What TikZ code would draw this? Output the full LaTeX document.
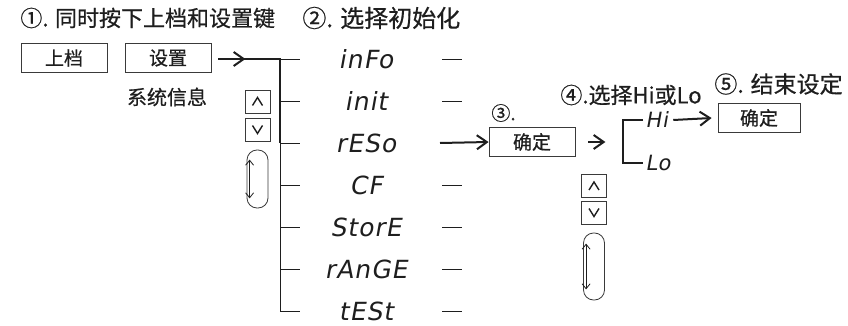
\documentclass[tikz,border=0pt]{standalone}
\usepackage{fontspec}
\setmainfont{Noto Sans CJK SC}[FakeBold=0.6]
\newfontfamily\segfont{DejaVu Sans}[FakeSlant=0.18, LetterSpace=4]
\usetikzlibrary{positioning, arrows.meta}
\definecolor{InkGray}{HTML}{1E1E1E}
\definecolor{FrameGray}{HTML}{3A3A3A}

\begin{document}
\begin{tikzpicture}[x=1pt, y=-1pt, line width=0.8pt, color=InkGray,
    every node/.style={inner sep=0pt, text=InkGray},
    key/.style={draw=FrameGray, minimum width=86pt, minimum height=29pt, font=\fontsize{19}{19}\selectfont},
    caption/.style={anchor=west, font=\fontsize{22}{22}\selectfont},
    segment/.style={font=\segfont\fontsize{25}{25}\selectfont},
    btn/.style={draw=FrameGray, minimum width=25pt, minimum height=23pt},
    loopbox/.style={draw=FrameGray, rounded corners=10pt, minimum width=21pt, minimum height=58pt},
    arrow/.style={-{Straight Barb[length=10pt, width=14pt, line width=2pt]}, line width=2pt},
    thinarrow/.style={{Straight Barb[length=5pt, width=8pt]}-{Straight Barb[length=5pt, width=8pt]}, line width=0.8pt}]
  \useasboundingbox (0,0) rectangle (848,326);

  % step 1
  \node[caption] (stepone) at (20,18) {①. 同时按下上档和设置键};
  \node[key] (shift) at (64,58) {上档};
  \node[key] (setup) at (168,58) {设置};
  \node[font=\fontsize{20}{20}\selectfont] (sysinfo) at (167,97) {系统信息};

  % step 2: menu
  \node[caption, font=\fontsize{24}{24}\selectfont] (steptwo) at (302,18) {②. 选择初始化};
  \foreach \name/\yy in {inFo/59, init/101, rESo/143, CF/185, StorE/227, rAnGE/269, tESt/311} {
    \node[segment] (\name) at (366,\yy) {\name};
    \coordinate (tick\name) at (280,\yy);
    \draw[line width=0.7pt] (tick\name) -- ++(20,0);
  }
  \foreach \yy in {59, 101, 185, 227, 269, 311}
    \draw[line width=0.7pt] (442,\yy) -- (462,\yy);
  \draw[line width=1.8pt] ([xshift=7pt]setup.east |- tickinFo) -- (tickinFo) -- (tickrESo);
  \draw[line width=0.7pt] (tickrESo) -- (ticktESt);
  \draw[arrow] ([xshift=7pt]setup.east |- tickinFo) -- ++(27,0);

  \node[btn] (upA) at (257.5,101.5) {};
  \node[btn] (downA) at (257.5,129.5) {};
  \draw[line width=1.4pt] ([shift={(-5,4)}]upA.center) -- ([shift={(0,-4)}]upA.center) -- ([shift={(5,4)}]upA.center);
  \draw[line width=1.4pt] ([shift={(-5,-4)}]downA.center) -- ([shift={(0,4)}]downA.center) -- ([shift={(5,-4)}]downA.center);
  \node[loopbox] (loopA) at (257.5,179) {};
  \draw[thinarrow] ([shift={(3,10)}]loopA.north west) -- ([shift={(3,-10)}]loopA.south west);

  % step 3
  \coordinate (picked) at (440,143);
  \node[key] (ok) at (532,142) {确定};
  \node[anchor=west, font=\fontsize{19}{19}\selectfont] (stepthree) at (491,113) {③.};
  \draw[arrow] (picked) -- (ok.west);

  \node[btn] (upB) at (594,186) {};
  \node[btn] (downB) at (594,212.5) {};
  \draw[line width=1.4pt] ([shift={(-5,4)}]upB.center) -- ([shift={(0,-4)}]upB.center) -- ([shift={(5,4)}]upB.center);
  \draw[line width=1.4pt] ([shift={(-5,-4)}]downB.center) -- ([shift={(0,4)}]downB.center) -- ([shift={(5,-4)}]downB.center);
  \node[loopbox, minimum height=67pt] (loopB) at (594,266.5) {};
  \draw[thinarrow] ([shift={(3,11)}]loopB.north west) -- ([shift={(3,-11)}]loopB.south west);

  % step 4
  \node[caption, anchor=center] (stepfour) at (631,95) {④.选择Hi或Lo};
  \node[segment, anchor=west, font=\segfont\fontsize{21}{21}\selectfont] (hi) at (645,120) {Hi};
  \node[segment, anchor=west, font=\segfont\fontsize{21}{21}\selectfont] (lo) at (645,163) {Lo};
  \draw[arrow] ([xshift=13pt]ok.east) -- ++(17,0);
  \draw[line width=1.8pt] ([xshift=-2pt]hi.west) -- (623,120) -- (623,163) -- ([xshift=-2pt]lo.west);

  % step 5
  \node[caption, font=\fontsize{23}{23}\selectfont] (stepfive) at (714,84) {⑤. 结束设定};
  \node[key, minimum width=82pt] (okend) at (759,118) {确定};
  \draw[arrow] ([xshift=5pt]hi.east) -- ([xshift=-6pt]okend.west);
\end{tikzpicture}
\end{document}
